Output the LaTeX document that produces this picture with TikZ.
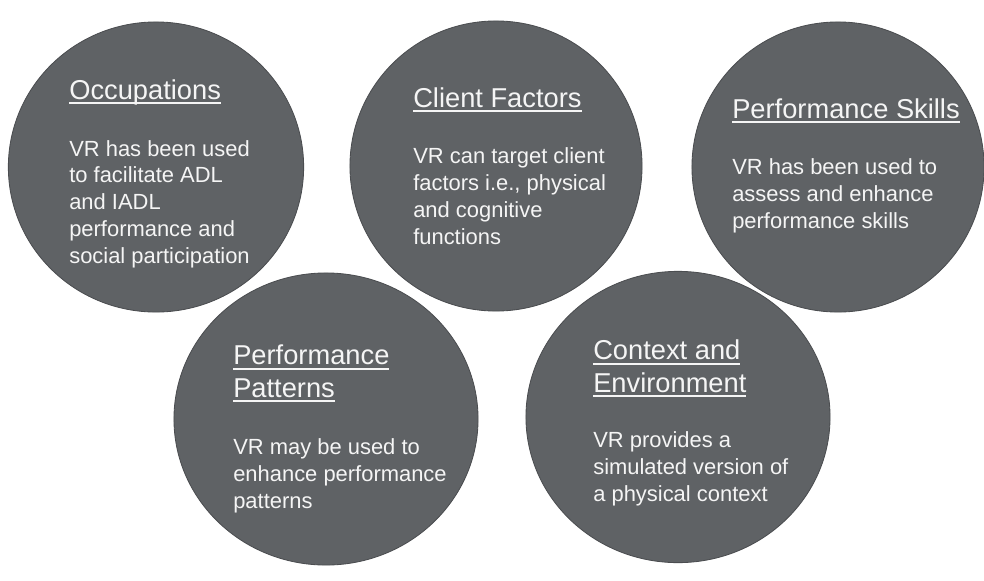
\documentclass[tikz,border=0pt]{standalone}
\usepackage{fontspec}
\setmainfont{Liberation Sans}
\usetikzlibrary{shapes.geometric}
\definecolor{disc}{HTML}{5F6265}
\definecolor{discline}{HTML}{4B4D50}
\definecolor{ink}{HTML}{F5F5F5}
\newcommand\headline[1]{\setbox0\hbox{#1}\rlap{\rule[-3.3pt]{\wd0}{1pt}}\box0}

\begin{document}
\begin{tikzpicture}[x=0.025cm, y=-0.025cm]
    \tikzset{bubble/.style = {shape=ellipse, draw=discline, fill=disc, line width=0.6pt, inner sep=0pt}}
    \tikzset{head/.style = {text=ink, inner sep=0pt, anchor=base west, align=left, font=\fontsize{19.4}{22.8}\selectfont}}
    \tikzset{body/.style = {text=ink, inner sep=0pt, anchor=base west, align=left, font=\fontsize{15.6}{19}\selectfont}}
    \useasboundingbox (0,0) rectangle (984,580);

    % circles
    \node[bubble, minimum width=7.38cm, minimum height=7.25cm] (occ) at (156,167) {};
    \node[bubble, minimum width=7.3cm, minimum height=7.25cm] (cli) at (496,166) {};
    \node[bubble, minimum width=7.3cm, minimum height=7.25cm] (skl) at (838,167) {};
    \node[bubble, minimum width=7.6cm, minimum height=7.3cm] (pat) at (326,419) {};
    \node[bubble, minimum width=7.6cm, minimum height=7.28cm] (env) at (678,417) {};

    % titles (base = last line)
    \node[head] (occT) at (69,99) {\headline{Occupations}};
    \node[head] (cliT) at (413,107) {\headline{Client Factors}};
    \node[head] (sklT) at (732,118) {\headline{Performance Skills}};
    \node[head] (patT) at (233,397) {\headline{Performance}\\\headline{Patterns}};
    \node[head] (envT) at (593,392) {\headline{Context and}\\\headline{Environment}};

    % texts (base = last line)
    \node[body] (occB) at (69,263) {VR has been used\\to facilitate ADL\\and IADL\\performance and\\social participation};
    \node[body] (cliB) at (413,244) {VR can target client\\factors i.e., physical\\and cognitive\\functions};
    \node[body] (sklB) at (732,228) {VR has been used to\\assess and enhance\\performance skills};
    \node[body] (patB) at (233,508) {VR may be used to\\enhance performance\\patterns};
    \node[body] (envB) at (593,501) {VR provides a\\simulated version of\\a physical context};
\end{tikzpicture}
\end{document}
